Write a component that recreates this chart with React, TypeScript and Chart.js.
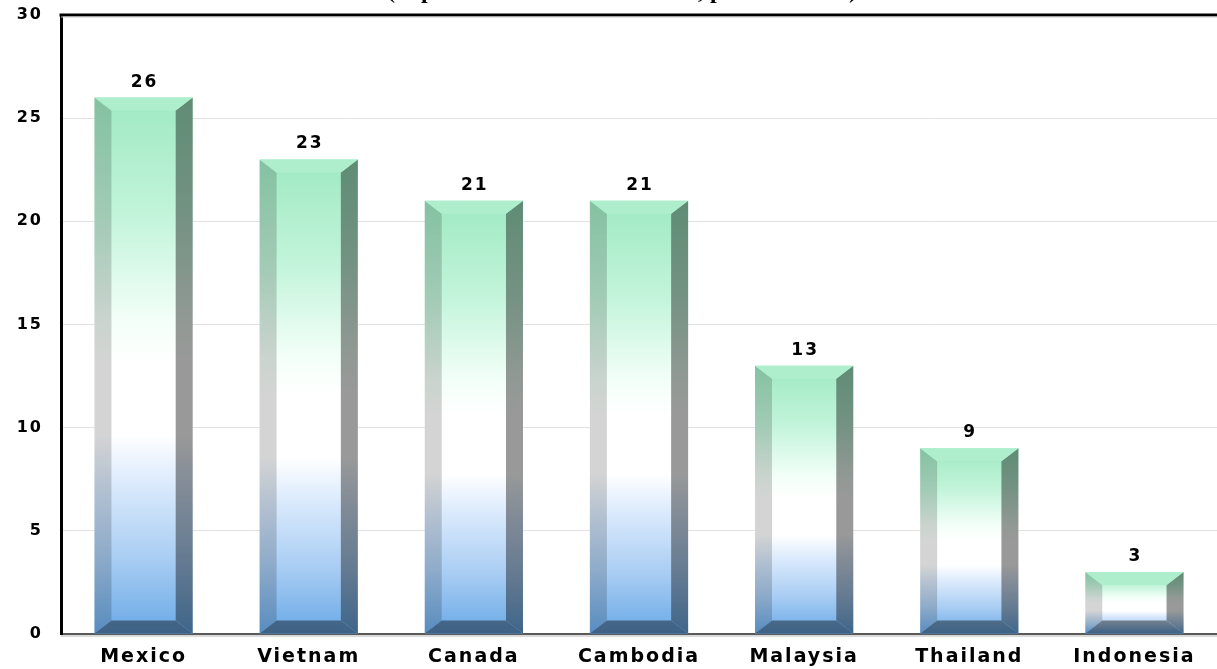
import React, { useEffect, useRef } from "react";
import { Chart, registerables } from "chart.js";

Chart.register(...registerables);

const categories = ["Mexico", "Vietnam", "Canada", "Cambodia", "Malaysia", "Thailand", "Indonesia"];
const values = [26, 23, 21, 21, 13, 9, 3];
const yMin = 0;
const yMax = 30;
const yStep = 5;
const titleText = "(Top sources in the US market, percent share)";

const FONT = "'DejaVu Sans', sans-serif";

function frontGradient(ctx: CanvasRenderingContext2D, top: number, bottom: number) {
  const g = ctx.createLinearGradient(0, top, 0, bottom);
  g.addColorStop(0, "#9fe9c3");
  g.addColorStop(0.22, "#c2f4da");
  g.addColorStop(0.42, "#f4fff9");
  g.addColorStop(0.5, "#ffffff");
  g.addColorStop(0.63, "#ffffff");
  g.addColorStop(0.72, "#dbeafc");
  g.addColorStop(0.86, "#a9cdf3");
  g.addColorStop(1, "#6aa9e6");
  return g;
}

function poly(ctx: CanvasRenderingContext2D, pts: number[][], fill: any) {
  ctx.beginPath();
  ctx.moveTo(pts[0][0], pts[0][1]);
  for (let i = 1; i < pts.length; i++) ctx.lineTo(pts[i][0], pts[i][1]);
  ctx.closePath();
  ctx.fillStyle = fill;
  ctx.fill();
}

const bevelPlugin = {
  id: "bevelBars",
  beforeDraw(chart: any) {
    (chart.ctx as any).letterSpacing = "2px";
  },
  afterDatasetsDraw(chart: any) {
    const ctx: CanvasRenderingContext2D = chart.ctx;
    const meta = chart.getDatasetMeta(0);
    ctx.save();
    meta.data.forEach((bar: any, i: number) => {
      const { x, y, base, width } = bar.getProps(["x", "y", "base", "width"], true);
      const l = x - width / 2;
      const r = x + width / 2;
      const t = y;
      const b = base;
      const dx = 17;
      const dy = 13;
      const g = frontGradient(ctx, t, b);
      poly(ctx, [[l, t], [r, t], [r, b], [l, b]], g);
      const leftPts = [[l, t], [l + dx, t + dy], [l + dx, b - dy], [l, b]];
      poly(ctx, leftPts, "rgba(0,0,0,0.17)");
      const rightPts = [[r, t], [r - dx, t + dy], [r - dx, b - dy], [r, b]];
      poly(ctx, rightPts, "rgba(0,0,0,0.40)");
      const topPts = [[l, t], [r, t], [r - dx, t + dy], [l + dx, t + dy]];
      poly(ctx, topPts, "#a3ecc7");
      poly(ctx, topPts, "rgba(255,255,255,0.12)");
      const botPts = [[l, b], [r, b], [r - dx, b - dy], [l + dx, b - dy]];
      poly(ctx, botPts, g);
      poly(ctx, botPts, "rgba(0,0,0,0.42)");

      ctx.fillStyle = "#000";
      ctx.font = `bold 17px ${FONT}`;
      ctx.textAlign = "center";
      ctx.textBaseline = "alphabetic";
      (ctx as any).letterSpacing = "2px";
      ctx.fillText(String(values[i]), x + 1, t - 11);
    });
    ctx.restore();
  },
  afterDraw(chart: any) {
    const ctx: CanvasRenderingContext2D = chart.ctx;
    const a = chart.chartArea;
    ctx.save();
    ctx.strokeStyle = "#000";
    ctx.lineWidth = 3;
    ctx.beginPath();
    ctx.moveTo(a.left - 1.5, a.top);
    ctx.lineTo(a.right, a.top);
    ctx.stroke();
    ctx.strokeStyle = "#c8c8c8";
    ctx.lineWidth = 1;
    ctx.beginPath();
    ctx.moveTo(a.left, a.top + 2);
    ctx.lineTo(a.right, a.top + 2);
    ctx.stroke();
    ctx.strokeStyle = "#b5b5b5";
    ctx.beginPath();
    ctx.moveTo(a.left, a.bottom + 2);
    ctx.lineTo(a.right, a.bottom + 2);
    ctx.stroke();
    (ctx as any).letterSpacing = "0px";
    let size = 20;
    ctx.font = `bold ${size}px 'Liberation Serif', serif`;
    const w = ctx.measureText(titleText).width;
    size = (size * 470) / w;
    ctx.font = `bold ${size}px 'Liberation Serif', serif`;
    ctx.fillStyle = "#000";
    ctx.textAlign = "center";
    ctx.textBaseline = "alphabetic";
    ctx.fillText(titleText, 622, -2);
    ctx.restore();
  },
};

export default function App() {
  const ref = useRef<HTMLCanvasElement | null>(null);
  useEffect(() => {
    if (!ref.current) return;
    const chart = new Chart(ref.current, {
      type: "bar",
      data: {
        labels: categories,
        datasets: [
          {
            data: values,
            backgroundColor: "rgba(0,0,0,0)",
            borderWidth: 0,
            barPercentage: 0.595,
            categoryPercentage: 1,
          },
        ],
      },
      options: {
        animation: false,
        responsive: false,
        maintainAspectRatio: false,
        layout: { padding: { top: 15, right: 0, left: 0, bottom: 0 } },
        plugins: {
          legend: { display: false },
          tooltip: { enabled: false },
          title: { display: false },
        },
        scales: {
          x: {
            grid: { display: false, drawTicks: false },
            border: { display: true, color: "#5a5a5a", width: 2 },
            ticks: {
              color: "#000",
              font: { family: FONT, size: 19, weight: "bold" },
              padding: 12,
              maxRotation: 0,
              autoSkip: false,
            },
            afterFit: (s: any) => {
              s.height = 35;
            },
          },
          y: {
            min: yMin,
            max: yMax,
            grid: {
              color: "#e2e2e2",
              lineWidth: 1,
              drawTicks: true,
              tickLength: 16,
              tickColor: "rgba(0,0,0,0)",
            },
            border: { display: true, color: "#000", width: 3 },
            ticks: {
              stepSize: yStep,
              color: "#000",
              font: { family: FONT, size: 16, weight: "bold" },
              padding: 2,
            },
            afterFit: (s: any) => {
              s.width = 61;
            },
          },
        },
      },
      plugins: [bevelPlugin],
    });
    return () => chart.destroy();
  }, []);
  return (
    <div style={{ position: "fixed", left: 0, top: 0, width: 1217, height: 669, background: "#fff" }}>
      <canvas ref={ref} width={1217} height={669} style={{ display: "block", width: 1217, height: 669 }} />
    </div>
  );
}
